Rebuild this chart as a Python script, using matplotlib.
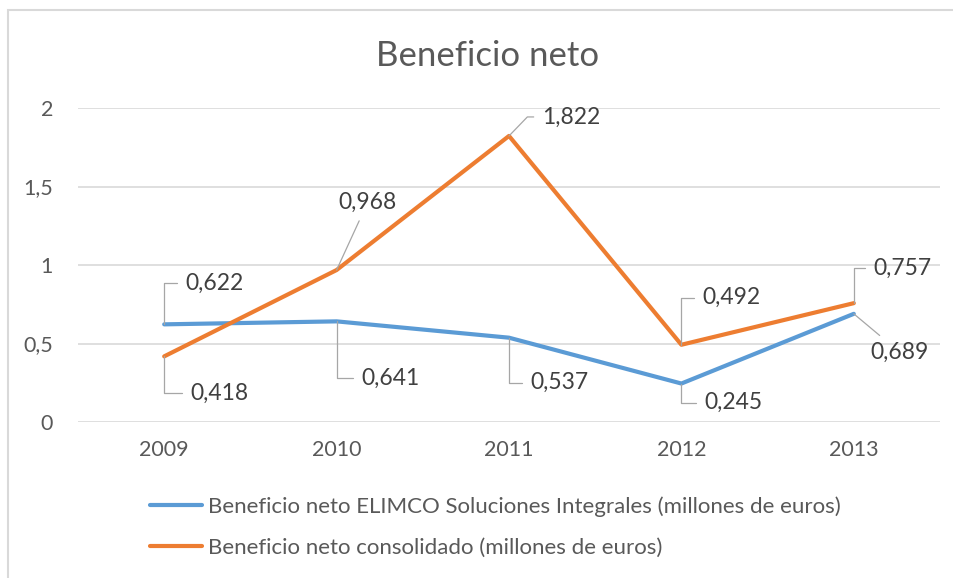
from matplotlib import pyplot as plt
from matplotlib import ticker
from matplotlib.patches import Rectangle

# ********** Data **********

years = ['2009', '2010', '2011', '2012', '2013']
elimco = [0.622, 0.641, 0.537, 0.245, 0.689]
consolidado = [0.418, 0.968, 1.822, 0.492, 0.757]

elimco_label = 'Beneficio neto ELIMCO Soluciones Integrales (millones de euros)'
consolidado_label = 'Beneficio neto consolidado (millones de euros)'
title = 'Beneficio neto'

# ********** Style **********

blue = '#5B9BD5'
orange = '#ED7D31'
grid_gray = '#D9D9D9'
text_gray = '#595959'
label_gray = '#404040'
leader_gray = '#A6A6A6'

# label offsets in pixels (dx, dy, horizontal align, connection style)
L = 'angle,angleA=0,angleB=90,rad=0'
elimco_offsets = [(21, 41, 'left', L), (25, -57, 'left', L), (21, -45, 'left', L),
                  (23, -19, 'left', L), (46, -28, 'center', 'arc3')]
consolidado_offsets = [(26, -37, 'left', L), (31, 57, 'center', 'arc3'),
                       (33, 19, 'left', 'angle,angleA=0,angleB=46,rad=0'),
                       (21, 47, 'left', L), (20, 35, 'left', L)]

plt.rcParams['font.family'] = ['Lato', 'DejaVu Sans']

W, H = 954, 578
fig = plt.figure(figsize=(W / 100, H / 100), dpi=100)
ax = fig.add_axes([78 / W, 1 - 422 / H, (940 - 78) / W, (422 - 108) / H])

x = range(len(years))
ax.plot(x, elimco, color=blue, linewidth=3, label=elimco_label, solid_capstyle='round', zorder=3)
ax.plot(x, consolidado, color=orange, linewidth=3, label=consolidado_label, solid_capstyle='round', zorder=4)


def comma(v, decimals=None):
	s = '{:.3f}'.format(v) if decimals else '{:g}'.format(v)
	return s.replace('.', ',')


def labelSeries(values, offsets):
	for i, v in enumerate(values):
		dx, dy, ha, conn = offsets[i]
		va = 'top' if (ha == 'center' and dy < 0) else ('bottom' if ha == 'center' else 'center')
		ax.annotate(comma(v, 3), xy=(i, v), xytext=(dx, dy), textcoords='offset pixels',
					ha=ha, va=va, fontsize=16.5, color=label_gray, zorder=6,
					arrowprops=dict(arrowstyle='-', color=leader_gray, linewidth=0.9,
									connectionstyle=conn, shrinkA=4, shrinkB=0))


labelSeries(elimco, elimco_offsets)
labelSeries(consolidado, consolidado_offsets)

ax.set_xlim(-0.5, len(years) - 0.5)
ax.set_ylim(0, 2)
ax.set_xticks(list(x))
ax.set_xticklabels(years)
ax.set_yticks([0, 0.5, 1, 1.5, 2])
ax.yaxis.set_major_formatter(ticker.FuncFormatter(lambda v, p: comma(v)))
ax.tick_params(axis='both', length=0, labelsize=15.5, colors=text_gray)
ax.tick_params(axis='y', pad=18)
ax.tick_params(axis='x', pad=13)
ax.grid(axis='y', color=grid_gray, linewidth=1.2)
ax.set_axisbelow(True)
for s in ax.spines.values():
	s.set_visible(False)

fig.text(488 / W, 1 - 56 / H, title, ha='center', va='center', fontsize=25,
		 color=text_gray, fontweight='normal')

fig.legend(loc='upper left', bbox_to_anchor=(150 / W, 1 - 496 / H), frameon=False,
		   fontsize=16, handlelength=2.35, handletextpad=0.25, labelspacing=0.95,
		   borderpad=0, borderaxespad=0, labelcolor=text_gray)

fig.patches.append(Rectangle((8 / W, -0.05), 1.1, 1 - 10 / H + 0.05, transform=fig.transFigure,
							 fill=False, edgecolor=grid_gray, linewidth=1.5))

fig.savefig('out.png', dpi=100)
